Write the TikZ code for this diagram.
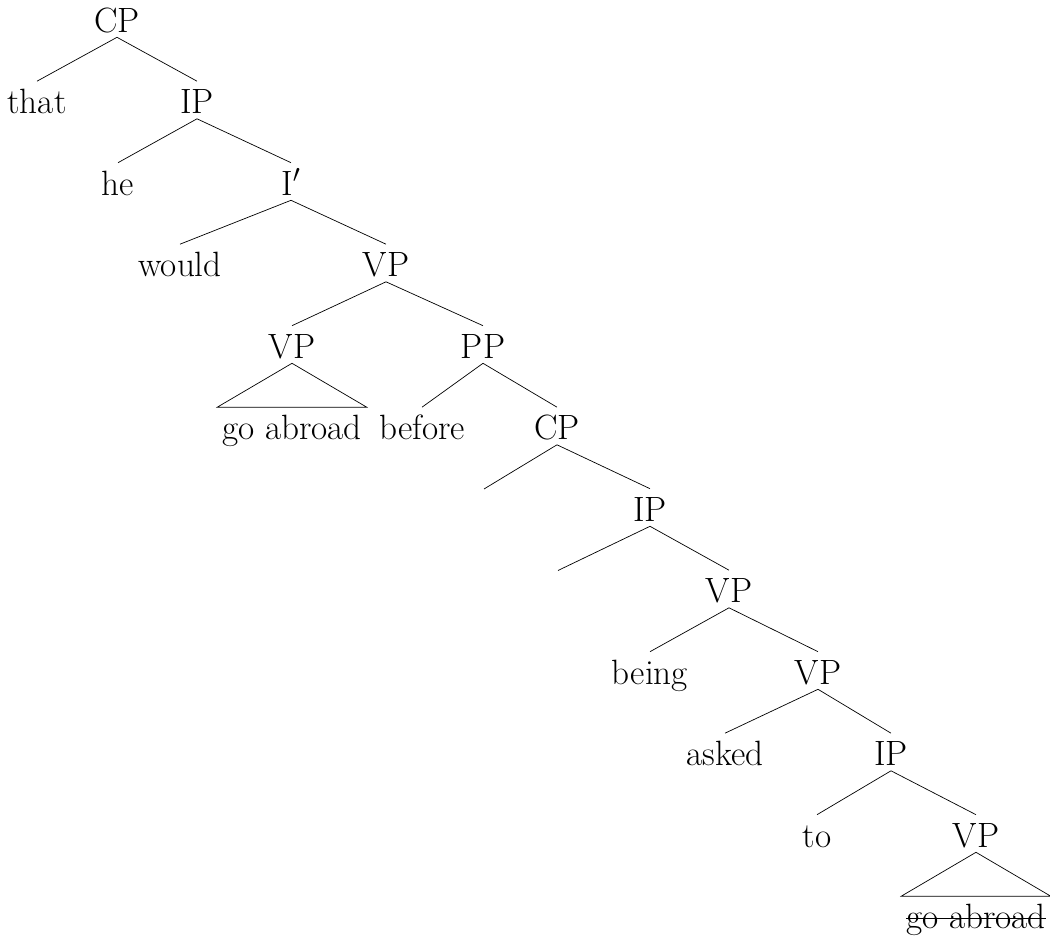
\documentclass[tikz,border=0pt]{standalone}
\usepackage{amsmath}
\usepackage{tikz}

\tikzset{
	lbl/.style={inner sep=0pt, text height=18.4pt, text depth=2.6pt, font=\fontsize{20}{24}\selectfont},
	roof/.style={lbl, inner xsep=2.6pt}
}

\begin{document}
\begin{tikzpicture}
			\begingroup
			\useasboundingbox (0,0) rectangle (21,18.72);
			
			\node[lbl] (cp1) at (2.34, 18.35) {CP};
			\node[lbl] (that) at (0.74, 16.72) {that};
			\node[lbl] (ip1) at (3.94, 16.72) {IP};
			\node[lbl] (he) at (2.36, 15.09) {he};
			\node[lbl] (ibar) at (5.82, 15.09) {I$'$};
			\node[lbl] (would) at (3.60, 13.46) {would};
			\node[lbl] (vp1) at (7.72, 13.46) {VP};
			\node[lbl] (vp2) at (5.84, 11.83) {VP};
			\node[lbl] (pp) at (9.66, 11.83) {PP};
			\node[roof] (ga1) at (5.84, 10.20) {go abroad};
			\node[lbl] (before) at (8.44, 10.20) {before};
			\node[lbl] (cp2) at (11.14, 10.20) {CP};
			\coordinate (e1) at (9.68, 8.94);
			\node[lbl] (ip2) at (13.00, 8.57) {IP};
			\coordinate (e2) at (11.16, 7.31);
			\node[lbl] (vp3) at (14.58, 6.94) {VP};
			\node[lbl] (being) at (13.00, 5.31) {being};
			\node[lbl] (vp4) at (16.36, 5.31) {VP};
			\node[lbl] (asked) at (14.50, 3.68) {asked};
			\node[lbl] (ip3) at (17.82, 3.68) {IP};
			\node[lbl] (to) at (16.34, 2.05) {to};
			\node[lbl] (vp5) at (19.52, 2.05) {VP};
			\node[roof] (ga2) at (19.52, 0.42) {go abroad};
			
			\draw (cp1.south) to (that.north);
			\draw (cp1.south) to (ip1.north);
			\draw (ip1.south) to (he.north);
			\draw (ip1.south) to (ibar.north);
			\draw (ibar.south) to (would.north);
			\draw (ibar.south) to (vp1.north);
			\draw (vp1.south) to (vp2.north);
			\draw (vp1.south) to (pp.north);
			\draw (vp2.south) -- (ga1.north west) -- (ga1.north east) -- cycle;
			\draw (pp.south) to (before.north);
			\draw (pp.south) to (cp2.north);
			\draw (cp2.south) to (e1);
			\draw (cp2.south) to (ip2.north);
			\draw (ip2.south) to (e2);
			\draw (ip2.south) to (vp3.north);
			\draw (vp3.south) to (being.north);
			\draw (vp3.south) to (vp4.north);
			\draw (vp4.south) to (asked.north);
			\draw (vp4.south) to (ip3.north);
			\draw (ip3.south) to (to.north);
			\draw (ip3.south) to (vp5.north);
			\draw (vp5.south) -- (ga2.north west) -- (ga2.north east) -- cycle;
			% struck-out copy
			\draw[line width=0.8pt] ([xshift=2.6pt,yshift=-1.9pt]ga2.west) to ([xshift=-2.6pt,yshift=-1.9pt]ga2.east);
			\endgroup
\end{tikzpicture}
\end{document}
